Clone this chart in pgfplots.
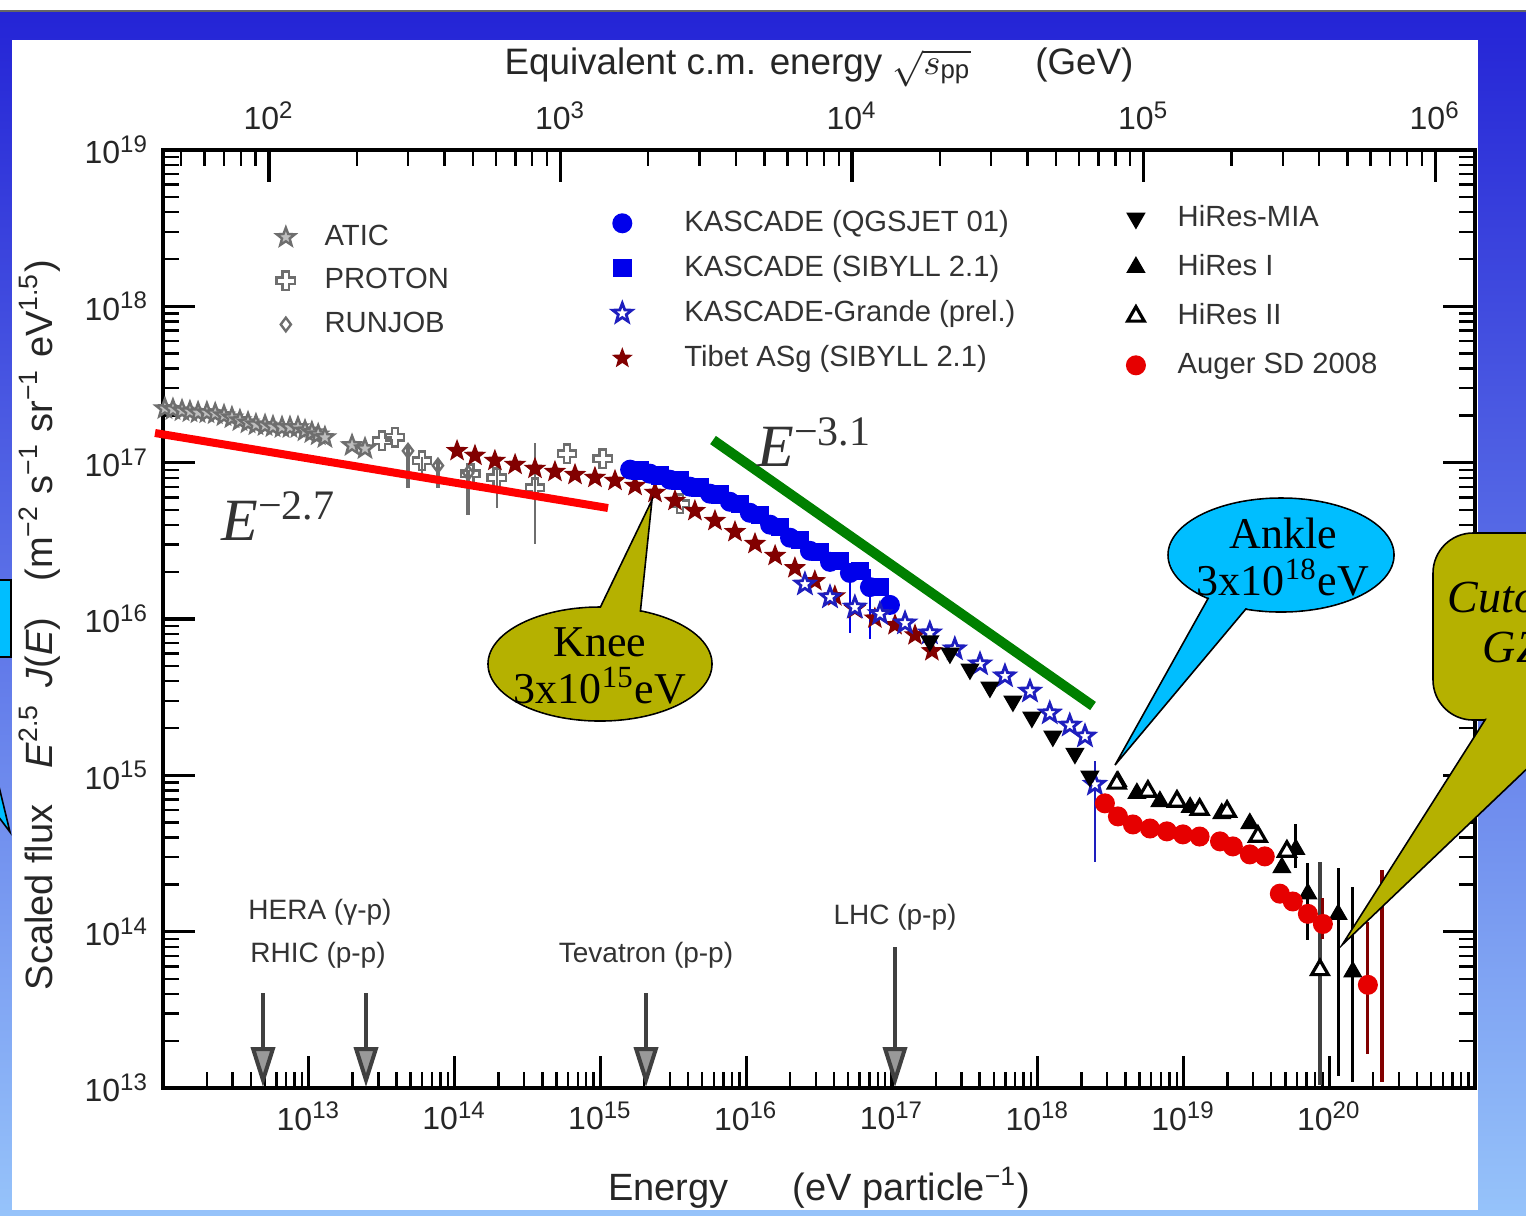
\documentclass[border=0pt]{standalone}
\usepackage{fontspec}
\setmainfont{Liberation Sans}
\newfontfamily\tnr{Liberation Serif}
\usepackage{pgfplots}
\pgfplotsset{compat=1.18}
\usetikzlibrary{arrows.meta}

\pgfdeclareplotmark{ostar}{%
 \pgfpathmoveto{\pgfpointpolar{90}{\pgfplotmarksize}}%
 \pgfpathlineto{\pgfpointpolar{126}{0.42\pgfplotmarksize}}%
 \pgfpathlineto{\pgfpointpolar{162}{\pgfplotmarksize}}%
 \pgfpathlineto{\pgfpointpolar{198}{0.42\pgfplotmarksize}}%
 \pgfpathlineto{\pgfpointpolar{234}{\pgfplotmarksize}}%
 \pgfpathlineto{\pgfpointpolar{270}{0.42\pgfplotmarksize}}%
 \pgfpathlineto{\pgfpointpolar{306}{\pgfplotmarksize}}%
 \pgfpathlineto{\pgfpointpolar{342}{0.42\pgfplotmarksize}}%
 \pgfpathlineto{\pgfpointpolar{18}{\pgfplotmarksize}}%
 \pgfpathlineto{\pgfpointpolar{54}{0.42\pgfplotmarksize}}%
 \pgfpathclose\pgfusepathqstroke}
\pgfdeclareplotmark{fstar}{%
 \pgfpathmoveto{\pgfpointpolar{90}{\pgfplotmarksize}}%
 \pgfpathlineto{\pgfpointpolar{126}{0.42\pgfplotmarksize}}%
 \pgfpathlineto{\pgfpointpolar{162}{\pgfplotmarksize}}%
 \pgfpathlineto{\pgfpointpolar{198}{0.42\pgfplotmarksize}}%
 \pgfpathlineto{\pgfpointpolar{234}{\pgfplotmarksize}}%
 \pgfpathlineto{\pgfpointpolar{270}{0.42\pgfplotmarksize}}%
 \pgfpathlineto{\pgfpointpolar{306}{\pgfplotmarksize}}%
 \pgfpathlineto{\pgfpointpolar{342}{0.42\pgfplotmarksize}}%
 \pgfpathlineto{\pgfpointpolar{18}{\pgfplotmarksize}}%
 \pgfpathlineto{\pgfpointpolar{54}{0.42\pgfplotmarksize}}%
 \pgfpathclose\pgfusepathqfillstroke}
\pgfdeclareplotmark{ocross}{%
 \pgfpathmoveto{\pgfqpoint{0.35\pgfplotmarksize}{\pgfplotmarksize}}%
 \pgfpathlineto{\pgfqpoint{0.35\pgfplotmarksize}{0.35\pgfplotmarksize}}%
 \pgfpathlineto{\pgfqpoint{\pgfplotmarksize}{0.35\pgfplotmarksize}}%
 \pgfpathlineto{\pgfqpoint{\pgfplotmarksize}{-0.35\pgfplotmarksize}}%
 \pgfpathlineto{\pgfqpoint{0.35\pgfplotmarksize}{-0.35\pgfplotmarksize}}%
 \pgfpathlineto{\pgfqpoint{0.35\pgfplotmarksize}{-\pgfplotmarksize}}%
 \pgfpathlineto{\pgfqpoint{-0.35\pgfplotmarksize}{-\pgfplotmarksize}}%
 \pgfpathlineto{\pgfqpoint{-0.35\pgfplotmarksize}{-0.35\pgfplotmarksize}}%
 \pgfpathlineto{\pgfqpoint{-\pgfplotmarksize}{-0.35\pgfplotmarksize}}%
 \pgfpathlineto{\pgfqpoint{-\pgfplotmarksize}{0.35\pgfplotmarksize}}%
 \pgfpathlineto{\pgfqpoint{-0.35\pgfplotmarksize}{0.35\pgfplotmarksize}}%
 \pgfpathlineto{\pgfqpoint{-0.35\pgfplotmarksize}{\pgfplotmarksize}}%
 \pgfpathclose\pgfusepathqstroke}

\definecolor{kneecol}{RGB}{181,177,0}
\definecolor{anklecol}{RGB}{0,190,255}
\definecolor{atic}{RGB}{110,110,110}
\definecolor{kblue}{RGB}{0,0,235}
\definecolor{gblue}{RGB}{30,30,190}
\definecolor{tibet}{RGB}{130,0,0}
\definecolor{auger}{RGB}{230,0,0}
\definecolor{slidetop}{RGB}{36,36,214}
\definecolor{slidebot}{RGB}{150,195,250}

\newcommand{\tenp}[1]{10\textsuperscript{#1}}

\begin{document}
\begin{tikzpicture}
\useasboundingbox (0,0) rectangle (381.5pt,303.75pt);
\clip (0,0) rectangle (381.5pt,303.75pt);
\fill[white] (0,0) rectangle (381.5pt,303.75pt);
\shade[top color=slidetop, bottom color=slidebot] (0,0) rectangle (381.5pt,301pt);
\draw[black!60, line width=0.3pt] (0,301pt) -- (381.5pt,301pt);
\begin{scope}[x=0.25pt,y=-0.25pt,shift={(0,303.75pt)}]
 \fill[white] (12,40) rectangle (1478,1210);
 \filldraw[anklecol, draw=black, line width=0.4pt] (-5,580) rectangle (11,657);
 \filldraw[anklecol, draw=black, line width=0.4pt] (-5,770) -- (10,832) -- (-5,812) -- cycle;
\end{scope}

% ---------- axis 1: main frame, ATIC / PROTON / RUNJOB ----------
\begin{axis}[
 scale only axis, width=328pt, height=234.5pt,
 at={(40.75pt,31.75pt)}, anchor=south west,
 xmode=log, ymode=log, xmin=1e12, xmax=1e21, ymin=1e13, ymax=1e19,
 axis line style={line width=1.1pt},
 major tick length=8pt, minor tick length=4pt, tick align=inside,
 every major tick/.append style={line width=0.8pt, black},
 every minor tick/.append style={line width=0.6pt, black},
 legend cell align=left,
 legend style={draw=none, fill=none, inner sep=0pt,
  at={(axis description cs:0.086,0.927)}, anchor=north west,
  font=\fontsize{7.3}{8.5}\selectfont, text=black!80, row sep=1.9pt,
  nodes={inner xsep=2.4pt, inner ysep=1pt, text height=5.5pt, text depth=1.5pt},
  /tikz/every odd column/.append style={column sep=5pt}},
 xtick pos=left,
 xtick={1e13,1e14,1e15,1e16,1e17,1e18,1e19,1e20},
 xticklabels={\tenp{13},\tenp{14},\tenp{15},\tenp{16},\tenp{17},\tenp{18},\tenp{19},\tenp{20}},
 minor xtick={2e12,3e12,4e12,5e12,6e12,7e12,8e12,9e12,2e13,3e13,4e13,5e13,6e13,7e13,8e13,9e13,2e14,3e14,4e14,5e14,6e14,7e14,8e14,9e14,2e15,3e15,4e15,5e15,6e15,7e15,8e15,9e15,2e16,3e16,4e16,5e16,6e16,7e16,8e16,9e16,2e17,3e17,4e17,5e17,6e17,7e17,8e17,9e17,2e18,3e18,4e18,5e18,6e18,7e18,8e18,9e18,2e19,3e19,4e19,5e19,6e19,7e19,8e19,9e19,2e20,3e20,4e20,5e20,6e20,7e20,8e20,9e20},
 ytick={1e13,1e14,1e15,1e16,1e17,1e18,1e19},
 yticklabels={\tenp{13},\tenp{14},\tenp{15},\tenp{16},\tenp{17},\tenp{18},\tenp{19}},
 minor ytick={2e13,3e13,4e13,5e13,6e13,7e13,8e13,9e13,2e14,3e14,4e14,5e14,6e14,7e14,8e14,9e14,2e15,3e15,4e15,5e15,6e15,7e15,8e15,9e15,2e16,3e16,4e16,5e16,6e16,7e16,8e16,9e16,2e17,3e17,4e17,5e17,6e17,7e17,8e17,9e17,2e18,3e18,4e18,5e18,6e18,7e18,8e18,9e18},
 ticklabel style={font=\fontsize{8}{9}\selectfont, text=black!85},
 xlabel={Energy\hspace{16pt}(eV particle\textsuperscript{−1})},
 xlabel style={at={(axis description cs:0.5,-0.1066)}, anchor=center, font=\fontsize{9.5}{11}\selectfont, text=black!85},
 ylabel={Scaled flux\hspace{9pt}\textit{E}\textsuperscript{2.5}\hspace{4pt}\textit{J}(\textit{E})\hspace{9pt}(m\textsuperscript{−2} s\textsuperscript{−1} sr\textsuperscript{−1} eV\textsuperscript{1.5})},
 ylabel style={at={(axis description cs:-0.0938,0.4936)}, anchor=center, font=\fontsize{9.5}{11}\selectfont, text=black!85},
]
\addplot[only marks, mark=fstar, mark size=2.4pt, color=atic, mark options={line width=0.6pt, fill=atic!45}] coordinates {
 (1.03e12,2.22e17) (1.17e12,2.19e17) (1.35e12,2.15e17) (1.53e12,2.12e17) (1.74e12,2.09e17)
 (2.00e12,2.09e17) (2.28e12,2.06e17) (2.62e12,2.00e17) (2.97e12,1.94e17) (3.37e12,1.86e17)
 (3.83e12,1.80e17) (4.34e12,1.75e17) (5.01e12,1.73e17) (5.68e12,1.70e17) (6.55e12,1.68e17)
 (7.43e12,1.68e17) (8.43e12,1.68e17) (9.42e12,1.60e17) (1.05e13,1.56e17) (1.16e13,1.51e17)
 (1.29e13,1.45e17) (1.98e13,1.29e17) (2.43e13,1.23e17)
};
\addlegendentry{ATIC}
\addplot[only marks, mark=ocross, mark size=2.3pt, color=atic, mark options={line width=0.6pt},
 error bars/.cd, y dir=both, y explicit, error mark=none, error bar style={line width=0.6pt, atic}] coordinates {
 (3.18e13,1.38e17) (3.90e13,1.45e17) (5.98e13,1.03e17) += (0,0.5e16) -= (0,2.5e16)
 (1.28e14,8.5e16) (1.95e14,8.0e16) += (0,1.3e16) -= (0,2.85e16)
 (3.56e14,6.9e16) += (0,6.4e16) -= (0,3.9e16)
 (5.9e14,1.14e17) (1.04e15,1.06e17) (3.52e15,5.46e16)
};
\addlegendentry{PROTON}
\addplot[only marks, mark=diamond, mark size=1.7pt, color=atic, mark options={line width=0.6pt},
 error bars/.cd, y dir=both, y explicit, error mark=none, error bar style={line width=0.9pt, atic}] coordinates {
 (4.79e13,1.19e17) += (0,1e16) -= (0,5e16)
 (7.69e13,9.57e16) += (0,1e16) -= (0,2.7e16)
 (1.24e14,8.6e16) += (0,0.4e16) -= (0,4.0e16)
};
\addlegendentry{RUNJOB}
\end{axis}

% ---------- axis 2: KASCADE / Grande / Tibet ----------
\begin{axis}[
 scale only axis, width=328pt, height=234.5pt,
 at={(40.75pt,31.75pt)}, anchor=south west,
 xmode=log, ymode=log, xmin=1e12, xmax=1e21, ymin=1e13, ymax=1e19,
 hide axis, legend cell align=left,
 legend style={draw=none, fill=none, inner sep=0pt,
  at={(axis description cs:0.3422,0.9419)}, anchor=north west,
  font=\fontsize{7.3}{8.5}\selectfont, text=black!80, row sep=2.25pt,
  nodes={inner xsep=2.4pt, inner ysep=1pt, text height=5.5pt, text depth=1.5pt},
  /tikz/every odd column/.append style={column sep=10.75pt}},
]
\addplot[only marks, mark=fstar, mark size=2.4pt, color=tibet, forget plot] coordinates {
 (1.04e14,1.19e17) (1.38e14,1.11e17) (1.89e14,1.03e17) (2.60e14,9.71e16) (3.56e14,9.16e16)
 (4.88e14,8.75e16) (6.70e14,8.37e16) (9.18e14,8.02e16) (1.26e15,7.67e16) (1.73e15,7.12e16)
 (2.37e15,6.43e16) (3.25e15,5.71e16) (4.45e15,4.92e16) (6.11e15,4.25e16) (8.38e15,3.61e16)
 (1.15e16,3.03e16) (1.58e16,2.54e16) (2.16e16,2.12e16) (2.96e16,1.75e16) (4.06e16,1.40e16)
 (5.57e16,1.16e16) (7.64e16,1.01e16) (1.05e17,9.16e15) (1.44e17,7.89e15) (1.88e17,6.24e15)
};
\addplot[only marks, mark=*, mark size=2.3pt, color=kblue,
 error bars/.cd, y dir=both, y explicit, error mark=none, error bar style={line width=0.6pt, kblue}] coordinates {
 (1.60e15,9.02e16) (2.19e15,8.50e16) (3.00e15,7.78e16) (4.12e15,7.02e16) (5.65e15,6.33e16)
 (7.74e15,5.62e16) (1.06e16,4.78e16) (1.46e16,4.01e16) (2.00e16,3.31e16) (2.74e16,2.73e16)
 (3.76e16,2.32e16) (5.15e16,1.97e16) += (0,0.3e16) -= (0,1.16e16)
 (7.07e16,1.60e16) += (0,0.5e16) -= (0,0.85e16) (9.69e16,1.23e16)
};
\addlegendentry{KASCADE (QGSJET 01)}
\addplot[only marks, mark=square*, mark size=2.1pt, color=kblue] coordinates {
 (1.87e15,8.89e16) (2.56e15,8.26e16) (3.52e15,7.67e16) (4.82e15,6.92e16) (6.61e15,6.24e16)
 (9.07e15,5.46e16) (1.24e16,4.64e16) (1.71e16,3.89e16) (2.34e16,3.21e16) (3.21e16,2.69e16)
 (4.40e16,2.35e16) (6.03e16,2.03e16) (8.28e16,1.60e16)
};
\addlegendentry{KASCADE (SIBYLL 2.1)}
\addplot[only marks, mark=fstar, mark size=2.5pt, color=gblue, mark options={fill=white, line width=0.7pt},
 error bars/.cd, y dir=both, y explicit, error mark=none, error bar style={line width=0.7pt, gblue}] coordinates {
 (2.53e16,1.67e16) (3.76e16,1.38e16) (5.57e16,1.19e16) (8.28e16,1.08e16) (1.23e17,9.42e15)
 (1.82e17,8.13e15) (2.70e17,6.43e15) (4.02e17,5.15e15) (5.96e17,4.32e15) (8.85e17,3.45e15)
 (1.21e18,2.50e15) (1.66e18,2.09e15) (2.11e18,1.78e15) (2.47e18,8.75e14) += (0,3.55e14) -= (0,5.94e14)
};
\addlegendentry{KASCADE-Grande (prel.)}
\addlegendimage{only marks, mark=fstar, mark size=2.2pt, color=tibet}
\addlegendentry{Tibet ASg (SIBYLL 2.1)}
\end{axis}

% ---------- axis 3: HiRes / Auger ----------
\begin{axis}[
 scale only axis, width=328pt, height=234.5pt,
 at={(40.75pt,31.75pt)}, anchor=south west,
 xmode=log, ymode=log, xmin=1e12, xmax=1e21, ymin=1e13, ymax=1e19,
 hide axis, legend cell align=left,
 legend style={draw=none, fill=none, inner sep=0pt,
  at={(axis description cs:0.7339,0.9472)}, anchor=north west,
  font=\fontsize{7.3}{8.5}\selectfont, text=black!80, row sep=3.25pt,
  nodes={inner xsep=2.4pt, inner ysep=1pt, text height=5.5pt, text depth=1.5pt},
  /tikz/every odd column/.append style={column sep=5.75pt}},
]
\addplot[only marks, mark=triangle*, mark size=2.4pt, black, mark options={rotate=180}] coordinates {
 (1.82e17,7.23e15) (2.50e17,6.05e15) (3.43e17,4.78e15) (4.70e17,3.66e15) (6.76e17,2.98e15)
 (9.12e17,2.35e15) (1.27e18,1.78e15) (1.80e18,1.38e15) (2.28e18,9.86e14)
};
\addlegendentry{HiRes-MIA}
\addplot[only marks, mark=triangle*, mark size=2.4pt, black,
 error bars/.cd, y dir=both, y explicit, error mark=none, error bar style={line width=0.7pt, black}] coordinates {
 (3.55e18,9.16e14) (4.79e18,7.67e14) (6.89e18,6.81e14) (1.11e19,6.24e14) (1.83e19,5.70e14)
 (2.85e19,4.92e14) (4.73e19,2.57e14) (5.90e19,3.36e14) += (0,1.49e14) -= (0,0.82e14)
 (7.13e19,1.75e14) += (0,0.98e14) -= (0,0.86e14)
 (1.15e20,1.29e14) += (0,1.25e14) -= (0,1.17e14)
 (1.45e20,5.54e13) += (0,1.39e14) -= (0,4.44e13)
};
\addlegendentry{HiRes I}
\addplot[only marks, mark=triangle*, mark size=2.4pt, black, mark options={fill=white, line width=0.8pt},
 error bars/.cd, y dir=both, y explicit, error mark=none, error bar style={line width=0.8pt, black!75}] coordinates {
 (3.49e18,8.89e14) (5.70e18,7.89e14) (9.02e18,6.81e14) (1.29e19,6.05e14) (1.99e19,5.87e14)
 (3.24e19,4.06e14) (5.12e19,3.26e14) (8.63e19,5.70e13) += (0,2.24e14) -= (0,4.65e13)
};
\addlegendentry{HiRes II}
\addplot[only marks, mark=*, mark size=2.3pt, color=auger,
 error bars/.cd, y dir=both, y explicit, error mark=none, error bar style={line width=0.8pt, tibet}] coordinates {
 (2.89e18,6.62e14) (3.55e18,5.46e14) (4.50e18,4.85e14) (5.89e18,4.57e14) (7.69e18,4.38e14)
 (9.91e18,4.19e14) (1.29e19,4.06e14) (1.78e19,3.78e14) (2.18e19,3.51e14) (2.85e19,3.12e14)
 (3.61e19,3.03e14) (4.58e19,1.75e14) (5.62e19,1.56e14) (7.13e19,1.30e14)
 (9.04e19,1.12e14) += (0,0.51e14) -= (0,0.22e14)
 (1.84e20,4.57e13) += (0,7.0e13) -= (0,2.92e13)
};
\addlegendentry{Auger SD 2008}
\addplot[mark=none, forget plot,
 error bars/.cd, y dir=both, y explicit, error mark=none, error bar style={line width=0.8pt, tibet}] coordinates {
 (2.30e20,5.0e13) += (0,1.99e14) -= (0,3.91e13)
};
\end{axis}

% ---------- top axis: equivalent c.m. energy ----------
\begin{axis}[scale only axis, width=328pt, height=234.5pt,
 at={(40.75pt,31.75pt)}, anchor=south west,
 xmode=log, xmin=43.3, xmax=1.37e6, ymin=0, ymax=1,
 axis x line*=top, axis y line=none, tick align=inside,
 axis line style={line width=1.1pt},
 major tick length=8pt, minor tick length=4pt,
 every major tick/.append style={line width=0.8pt, black},
 every minor tick/.append style={line width=0.6pt, black},
 xtick={1e2,1e3,1e4,1e5,1e6},
 xticklabels={\tenp{2},\tenp{3},\tenp{4},\tenp{5},\tenp{6}},
 minor xtick={50,60,70,80,90,200,300,400,500,600,700,800,900,2000,3000,4000,5000,6000,7000,8000,9000,2e4,3e4,4e4,5e4,6e4,7e4,8e4,9e4,2e5,3e5,4e5,5e5,6e5,7e5,8e5,9e5},
 ticklabel style={font=\fontsize{8}{9}\selectfont, text=black!85},
 xticklabel style={yshift=1.5pt},
 xlabel={Equivalent c.m. energy $\sqrt{s_{\mathrm{pp}}}$\hspace{16pt}(GeV)},
 xlabel style={at={(axis description cs:0.5,1.088)}, anchor=center, font=\fontsize{9.2}{11}\selectfont, text=black!85},
]
\end{axis}

% ---------- annotations ----------
\begin{scope}[x=0.25pt,y=-0.25pt,shift={(0,303.75pt)}]
 \draw[black!75, line width=1pt, -{Triangle[width=6pt,length=10pt,fill=gray!80]}] (263,993) -- (263,1087);
 \draw[black!75, line width=1pt, -{Triangle[width=6pt,length=10pt,fill=gray!80]}] (366,993) -- (366,1087);
 \draw[black!75, line width=1pt, -{Triangle[width=6pt,length=10pt,fill=gray!80]}] (646,993) -- (646,1087);
 \draw[black!75, line width=1pt, -{Triangle[width=6pt,length=10pt,fill=gray!80]}] (895,947) -- (895,1087);
 \draw[red, line width=2pt] (155,433) -- (608,508);
 \draw[green!50!black, line width=2.5pt] (713,440) -- (1093,706);
 \node[text=black!80, font=\tnr\itshape\fontsize{15}{15}\selectfont] at (279,516) {E\textsuperscript{\upshape −2.7}};
 \node[text=black!80, font=\tnr\itshape\fontsize{15}{15}\selectfont] at (815,442) {E\textsuperscript{\upshape −3.1}};
 % Knee
 \filldraw[kneecol, draw=black, line width=0.4pt] (600,664) ellipse [x radius=28pt, y radius=14.25pt];
 \filldraw[kneecol, draw=black, line width=0.4pt] (598,612) -- (652,500) -- (640,615) -- cycle;
 \fill[kneecol] (600,664) ellipse [x radius=27.7pt, y radius=13.95pt];
 \node[font=\tnr\fontsize{11}{11.75}\selectfont, align=center] at (600,666) {Knee\\3x10\textsuperscript{15}eV};
 % Ankle
 \filldraw[anklecol, draw=black, line width=0.4pt] (1281,555) ellipse [x radius=28.25pt, y radius=14.25pt];
 \filldraw[anklecol, draw=black, line width=0.4pt] (1210,595) -- (1115,765) -- (1250,604) -- cycle;
 \fill[anklecol] (1281,555) ellipse [x radius=27.95pt, y radius=13.95pt];
 \node[font=\tnr\fontsize{11}{11.75}\selectfont, align=center] at (1283,557) {Ankle\\3x10\textsuperscript{18}eV};
 % Cutoff GZK
 \filldraw[kneecol, draw=black, line width=0.4pt, rounded corners=10pt] (1433,533) rectangle (1620,720);
 \filldraw[kneecol, draw=black, line width=0.4pt] (1490,712) -- (1342,945) -- (1620,680) -- cycle;
 \fill[kneecol, rounded corners=9.7pt] (1434.5,534.5) rectangle (1620,718.5);
 \node[font=\tnr\itshape\fontsize{11.5}{12.5}\selectfont, anchor=base west, inner sep=0pt] at (1447,612) {Cutoff};
 \node[font=\tnr\itshape\fontsize{11.5}{12.5}\selectfont, anchor=base west, inner sep=0pt] at (1482,662) {GZK};
 % accelerator labels
 \node[font=\fontsize{7}{8}\selectfont, text=black!80] at (320,912) {HERA (γ-p)};
 \node[font=\fontsize{7}{8}\selectfont, text=black!80] at (318,955) {RHIC (p-p)};
 \node[font=\fontsize{7}{8}\selectfont, text=black!80] at (646,955) {Tevatron (p-p)};
 \node[font=\fontsize{7}{8}\selectfont, text=black!80] at (895,917) {LHC (p-p)};
\end{scope}
\end{tikzpicture}
\end{document}
